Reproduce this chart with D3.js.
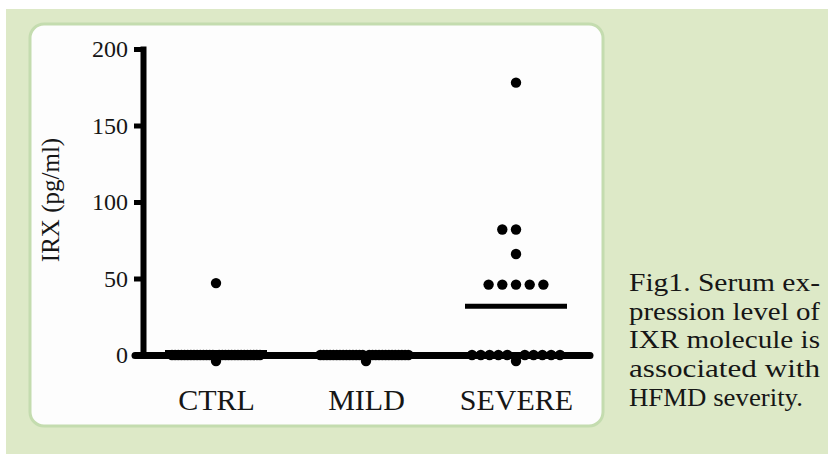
<!DOCTYPE html>
<html>
<head>
<meta charset="utf-8">
<script src="https://cdn.jsdelivr.net/npm/d3@7/dist/d3.min.js"></script>
<style>
  html, body { margin: 0; padding: 0; background: #ffffff; }
  svg { display: block; }
  text { font-family: "Liberation Serif", "Times New Roman", Times, serif; fill: #161616; }
</style>
</head>
<body>
<svg id="chart" width="828" height="454"></svg>
<script>
// ---- data ----
const categories = ["CTRL", "MILD", "SEVERE"];
const ctrlValues = [47,
  0, 0, 0, 0, 0, 0, 0, 0, 0, 0,
  0, 0, 0, 0, 0, 0, 0, 0, 0, 0,
  0, 0, 0, 0, 0, 0, 0, 0, 0];
const mildValues = [
  0, 0, 0, 0, 0, 0, 0, 0, 0, 0,
  0, 0, 0, 0, 0, 0, 0, 0, 0, 0,
  0, 0, 0, 0, 0, 0, 0, 0];
const severeValues = [178, 82, 82, 66, 46, 46, 46, 46, 46,
  0, 0, 0, 0, 0, 0, 0, 0, 0, 0, 0];
const yTickValues = [0, 50, 100, 150, 200];
const yLabel = "IRX (pg/ml)";
const captionLines = ["Fig1. Serum ex-", "pression level of", "IXR molecule is", "associated with", "HFMD severity."];

const groups = [ctrlValues, mildValues, severeValues];

// ---- layout ----
const svg = d3.select("#chart");
const W = 828, H = 454;
const serif = '"Liberation Serif", "Times New Roman", Times, serif';

// backgrounds
svg.append("rect").attr("x", 0).attr("y", 0).attr("width", W).attr("height", H).attr("fill", "#ffffff");
svg.append("rect").attr("x", 6).attr("y", 9).attr("width", W - 6).attr("height", H - 9).attr("fill", "#dde9c7");
svg.append("rect").attr("x", 30).attr("y", 24).attr("width", 573).attr("height", 402)
  .attr("rx", 14).attr("ry", 14)
  .attr("fill", "#fdfdfd").attr("stroke", "#c4dcaf").attr("stroke-width", 3);

const y = d3.scaleLinear().domain([0, 200]).range([355, 49]);
const x = d3.scalePoint().domain(categories).range([141, 591]).padding(0.5);
const axisX = 143;

// y axis
const gy = svg.append("g").attr("transform", `translate(${axisX},0)`)
  .attr("font-family", serif)
  .call(d3.axisLeft(y).tickValues(yTickValues).tickSize(9).tickSizeOuter(0).tickPadding(6).tickFormat(d3.format("d")));
gy.attr("font-family", serif);
gy.select(".domain").attr("stroke", "#000").attr("stroke-width", 6).attr("stroke-linecap", "square");
gy.selectAll(".tick line").attr("stroke", "#000").attr("stroke-width", 5);
gy.selectAll(".tick text").attr("font-size", 24).attr("fill", "#161616")
  .style("font-family", serif);

// y label
svg.append("text")
  .attr("transform", `translate(59,200) rotate(-90)`)
  .attr("text-anchor", "middle")
  .attr("font-size", 25)
  .text(yLabel);

// x axis
const gx = svg.append("g").attr("transform", `translate(0,${y(0)})`)
  .call(d3.axisBottom(x).tickSize(0).tickSizeOuter(0).tickPadding(40));
gx.attr("font-family", serif);
gx.select(".domain").attr("stroke", "#000").attr("stroke-width", 7).attr("stroke-linecap", "round")
  .attr("d", `M${axisX - 8},0.5H${x.range()[1] - 1}`);
gx.selectAll(".tick text").attr("font-size", 30).attr("fill", "#161616").attr("dy", "0")
  .attr("y", 55)
  .style("font-family", serif);

// points layout: equal values spread horizontally around the category centre
const r = 5.2;
const baseStep = 13.7, maxSpan = 88;
function layout(values, cat) {
  const bins = d3.group(values, v => v);
  const out = [];
  for (const [v, arr] of bins) {
    const n = arr.length;
    const step = n > 1 ? Math.min(baseStep, maxSpan / (n - 1)) : 0;
    arr.forEach((_, i) => {
      const k = i === 0 ? 0 : (i % 2 === 1 ? -Math.ceil(i / 2) : Math.ceil(i / 2));
      const dy = (n > 6 && i === 0) ? 6 : 0; // overflow row
      out.push({ v, cx: x(cat) + k * step, cy: y(v) + dy });
    });
  }
  return out;
}

// mean lines
groups.forEach((vals, gi) => {
  const cat = categories[gi];
  const m = d3.mean(vals);
  svg.append("line")
    .attr("x1", x(cat) - 51).attr("x2", x(cat) + 51)
    .attr("y1", y(m)).attr("y2", y(m))
    .attr("stroke", "#000").attr("stroke-width", 5);
});

groups.forEach((vals, gi) => {
  const cat = categories[gi];
  svg.append("g").selectAll("circle")
    .data(layout(vals, cat))
    .join("circle")
    .attr("cx", d => d.cx).attr("cy", d => d.cy).attr("r", r)
    .attr("fill", "#000");
});

// caption
const cap = svg.append("g");
const capX = 629, capY0 = 291, capLH = 28.7;
captionLines.forEach((line, i) => {
  const t = cap.append("text")
    .attr("x", capX).attr("y", capY0 + i * capLH)
    .attr("font-size", 25.5)
    .text(line);
  const target = i < captionLines.length - 1 ? 191 : 174;
  t.attr("textLength", target).attr("lengthAdjust", "spacingAndGlyphs");
});
</script>
</body>
</html>
